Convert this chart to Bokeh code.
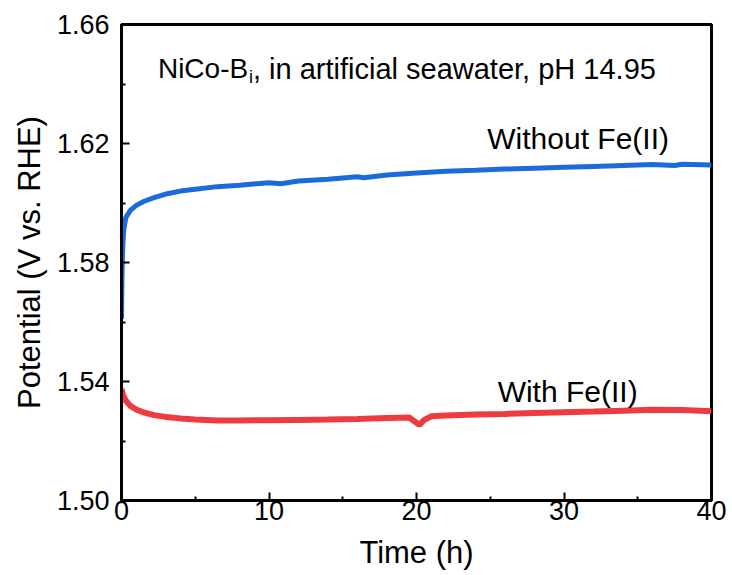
from bokeh.plotting import figure
from bokeh.models import Label, Range1d, FixedTicker, NumeralTickFormatter
from bokeh.embed import file_html
from bokeh.resources import INLINE

# Data
blue_t = [0, 0.03, 0.08, 0.15, 0.3, 0.6, 1.0, 1.5, 2.2, 3.0, 4.0, 5.0, 6.5, 8.0,
          10.0, 10.8, 12.0, 14.0, 16.0, 16.4, 18.0, 20.0, 22.0, 24.0, 26.0, 28.0,
          30.0, 32.0, 34.0, 36.0, 37.5, 38.0, 40.0]
blue_v = [1.561, 1.575, 1.585, 1.591, 1.5952, 1.5975, 1.5992, 1.6005, 1.6018,
          1.6030, 1.6040, 1.6046, 1.6055, 1.6060, 1.6068, 1.6065, 1.6074, 1.6080,
          1.6088, 1.6085, 1.6094, 1.6101, 1.6107, 1.6110, 1.6114, 1.6117, 1.6120,
          1.6123, 1.6126, 1.6129, 1.6126, 1.6130, 1.6128]

red_t = [0, 0.1, 0.3, 0.6, 1.0, 1.5, 2.2, 3.0, 4.0, 5.0, 6.5, 8.0, 10.0, 12.0,
         14.0, 16.0, 18.0, 19.5, 20.2, 20.5, 21.0, 22.0, 24.0, 26.0, 28.0, 30.0,
         32.0, 34.0, 36.0, 38.0, 40.0]
red_v = [1.5375, 1.5355, 1.5335, 1.5318, 1.5306, 1.5296, 1.5287, 1.5281, 1.5276,
         1.5272, 1.5269, 1.5269, 1.5270, 1.5271, 1.5272, 1.5274, 1.5277, 1.5279,
         1.5254, 1.5270, 1.5283, 1.5286, 1.5289, 1.5291, 1.5294, 1.5297, 1.5299,
         1.5302, 1.5305, 1.5304, 1.5300]

x_ticks = [0, 10, 20, 30, 40]
x_minor = [5, 15, 25, 35]
y_ticks = [1.50, 1.54, 1.58, 1.62, 1.66]
y_minor = [1.52, 1.56, 1.60, 1.64]

title_main = "NiCo-B"
title_sub = "i"
title_rest = ", in artificial seawater, pH 14.95"
label_blue = "Without Fe(II)"
label_red = "With Fe(II)"

FONT = "Liberation Sans"

p = figure(width=728, height=572, output_backend="svg", toolbar_location=None,
           x_range=Range1d(0, 40), y_range=Range1d(1.50, 1.66),
           min_border_left=121, min_border_top=24, min_border_right=17,
           min_border_bottom=72)

p.outline_line_color = "black"
p.outline_line_width = 3
p.grid.visible = False
p.background_fill_color = "white"
p.border_fill_color = "white"

p.line(blue_t, blue_v, line_color="#1C6BDD", line_width=5)
p.line(red_t, red_v, line_color="#EE3B3F", line_width=6)

for ax in (p.xaxis[0], p.yaxis[0]):
    ax.axis_line_width = 3
    ax.axis_line_color = "black"
    ax.major_tick_in = 8
    ax.major_tick_out = 0
    ax.minor_tick_in = 4
    ax.minor_tick_out = 0
    ax.major_tick_line_width = 2
    ax.minor_tick_line_width = 2
    ax.major_tick_line_color = "black"
    ax.minor_tick_line_color = "black"
    ax.major_label_text_font = FONT
    ax.major_label_text_font_size = "27px"
    ax.major_label_text_color = "black"
    ax.axis_label_text_font = FONT
    ax.axis_label_text_font_size = "31px"
    ax.axis_label_text_font_style = "normal"
    ax.axis_label_text_color = "black"

p.xaxis.ticker = FixedTicker(ticks=x_ticks, minor_ticks=x_minor)
p.yaxis.ticker = FixedTicker(ticks=y_ticks, minor_ticks=y_minor)
p.yaxis.formatter = NumeralTickFormatter(format="0.00")
p.xaxis.axis_label = "Time (h)"
p.yaxis.axis_label = "Potential (V vs. RHE)"
p.xaxis.major_label_standoff = 0
p.xaxis.axis_label_standoff = 12
p.yaxis.major_label_standoff = 12
p.yaxis.axis_label_standoff = 7

# Title pieces
p.add_layout(Label(x=2.47, y=1.6451, text=title_main, text_font=FONT,
                   text_font_size="28px", text_baseline="alphabetic",
                   text_color="black"))
p.add_layout(Label(x=2.47, y=1.6451, x_offset=91, y_offset=-8, text=title_sub,
                   text_font=FONT, text_font_size="18px",
                   text_baseline="alphabetic", text_color="black"))
p.add_layout(Label(x=2.47, y=1.6451, x_offset=95, text=title_rest, text_font=FONT,
                   text_font_size="29px", text_baseline="alphabetic",
                   text_color="black"))

p.add_layout(Label(x=24.8, y=1.6216, text=label_blue, text_font=FONT,
                   text_font_size="30px", text_baseline="alphabetic",
                   text_color="black"))
p.add_layout(Label(x=25.5, y=1.5365, text=label_red, text_font=FONT,
                   text_font_size="30px", text_baseline="alphabetic",
                   text_color="black"))

open("out.html", "w").write(file_html(p, INLINE))
